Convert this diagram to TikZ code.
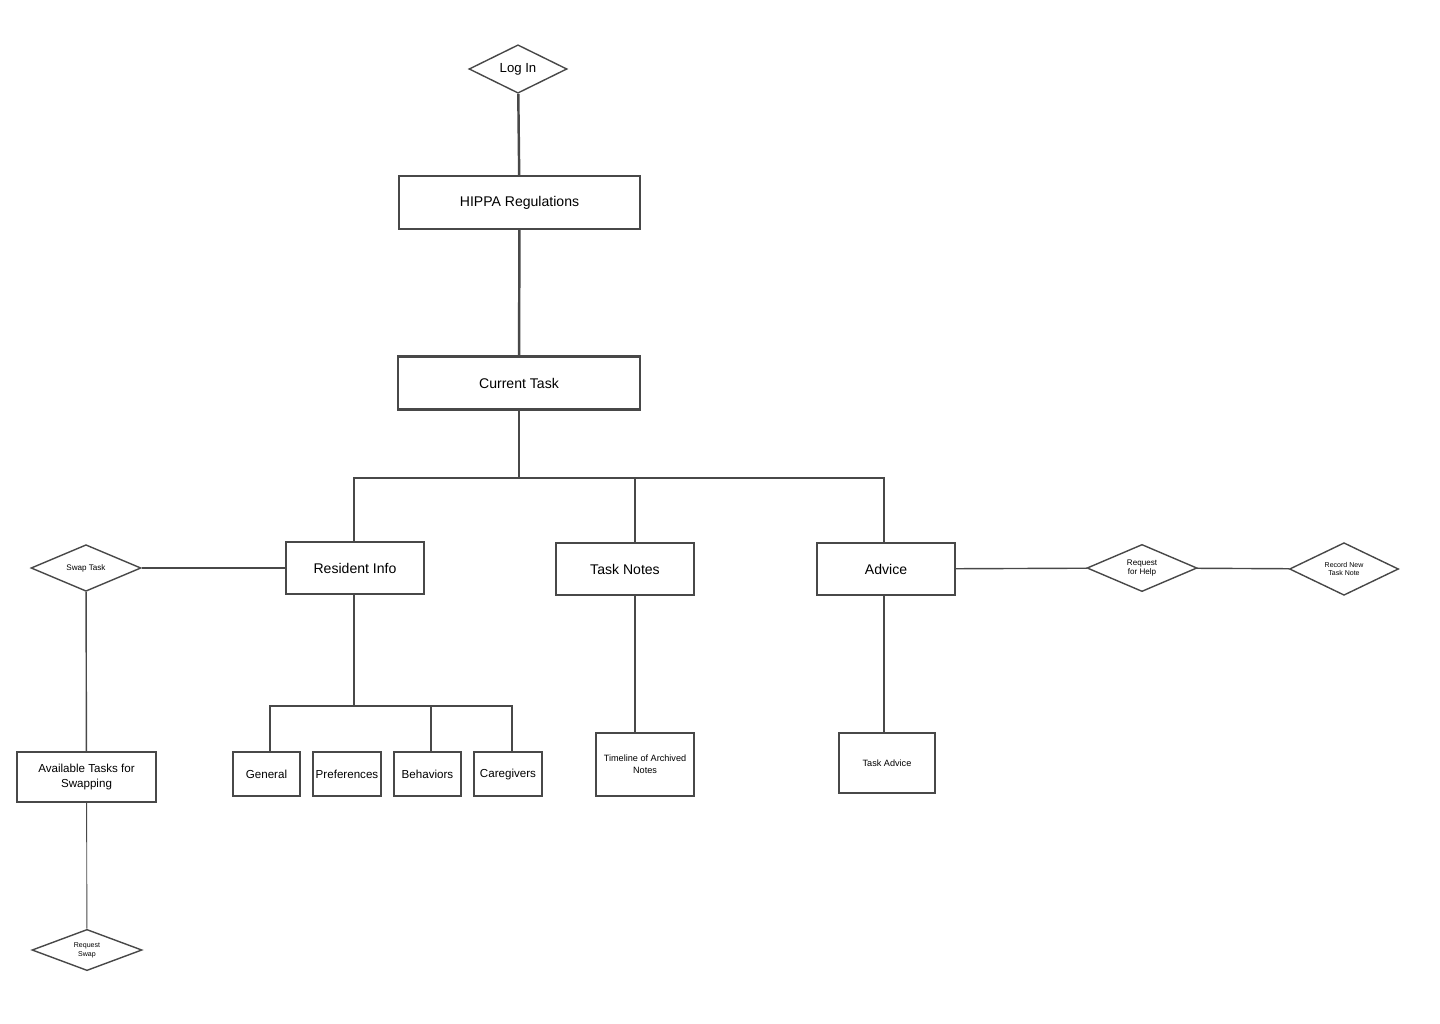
\documentclass[tikz,border=0pt]{standalone}
\usepackage{fontspec}
\setmainfont{Liberation Sans}
\usetikzlibrary{shapes.geometric, positioning}
\definecolor{gray1}{RGB}{72,72,72}

\begin{document}
\begin{tikzpicture}[x=0.02cm, y=-0.02cm]

\tikzset{
  box/.style	={rectangle, draw=gray1, line width=1.2pt, inner sep=0pt, align=center, font=\fontsize{8}{9.5}\selectfont},
  subbox/.style	={rectangle, draw=gray1, line width=1pt, inner sep=0pt, align=center, font=\fontsize{6.6}{8}\selectfont},
  choice/.style	={diamond, draw=gray1, line width=0.8pt, inner sep=0pt, aspect=1, align=center, minimum width=3.1cm*0.7, font=\fontsize{4.6}{5.6}\selectfont},
  link/.style	={draw=gray1, line width=1.4pt},
  thinlink/.style	={draw=gray1, line width=0.5pt}
}

\useasboundingbox (0,0) rectangle (1440,1024);

\node[choice, minimum width=1.96cm, font=\fontsize{7.5}{9}\selectfont] (login) at (518,69) {Log In};
\node[box, minimum width=4.82cm, minimum height=1.06cm] (hippa) at (519.5,202.5) {HIPPA Regulations};
\node[box, minimum width=4.84cm, minimum height=1.06cm] (current) at (519,383) {Current Task};

\node[box, minimum width=2.76cm, minimum height=1.04cm] (resident) at (355,568) {Resident Info};
\node[box, minimum width=2.76cm, minimum height=1.04cm] (notes) at (625,569) {Task Notes};
\node[box, minimum width=2.76cm, minimum height=1.04cm] (advice) at (886,569) {Advice};

\node[choice, minimum width=2.2cm] (swap) at (86,568) {Swap Task};
\node[choice, minimum width=2.2cm] (help) at (1142,568) {Request\\for Help};
\node[choice, minimum width=2.18cm, font=\fontsize{4}{5}\selectfont] (record) at (1344,569) {Record New\\Task Note};

\node[subbox, minimum width=2.78cm, minimum height=1cm] (avail) at (86.5,777) {Available Tasks for\\Swapping};
\node[choice, minimum width=2.2cm, font=\fontsize{4}{5}\selectfont] (reqswap) at (87,950) {Request\\Swap};

\node[subbox, minimum width=1.34cm, minimum height=0.88cm] (general) at (266.5,774) {General};
\node[subbox, minimum width=1.36cm, minimum height=0.88cm] (prefs) at (347,774) {Preferences};
\node[subbox, minimum width=1.34cm, minimum height=0.88cm] (behav) at (427.5,774) {Behaviors};
\node[subbox, minimum width=1.36cm, minimum height=0.88cm] (care) at (508,774) {Caregivers};

\node[subbox, line width=0.8pt, minimum width=1.96cm, minimum height=1.26cm, font=\fontsize{5.2}{7}\selectfont] (timeline) at (645,764.5) {Timeline of Archived\\Notes};
\node[subbox, line width=0.8pt, minimum width=1.92cm, minimum height=1.2cm, font=\fontsize{5.2}{7}\selectfont] (taskadv) at (887,763) {Task Advice};

\coordinate (bus) at (519,478);
\coordinate (subbus) at (354,706);

\draw[link] (login) -- (hippa);
\draw[link] (hippa) -- (current);
\draw[link] (current) -- (bus);
\draw[link] (resident.north -| 354,0) |- (bus) -| (advice.north -| 884,0);
\draw[link] (bus -| 635,0) -- (notes.north -| 635,0);

\draw[thinlink, line width=0.8pt] (swap) -- (resident);
\draw[thinlink, line width=0.8pt] (swap) -- (avail);
\draw[thinlink] (avail) -- (reqswap);
\draw[thinlink, line width=0.8pt] (advice) -- (help);
\draw[thinlink, line width=0.8pt] (help) -- (record);

\draw[link, line width=1pt] (resident.south -| subbus) -- (subbus);
\draw[link, line width=1pt] (general.north -| 270,0) |- (subbus) -| (care.north -| 512,0);
\draw[link, line width=1pt] (subbus -| 431,0) -- (behav.north -| 431,0);

\draw[link, line width=1pt] (notes.south -| 635,0) -- (timeline.north -| 635,0);
\draw[link, line width=1pt] (advice.south -| 884,0) -- (taskadv.north -| 884,0);

\end{tikzpicture}
\end{document}
